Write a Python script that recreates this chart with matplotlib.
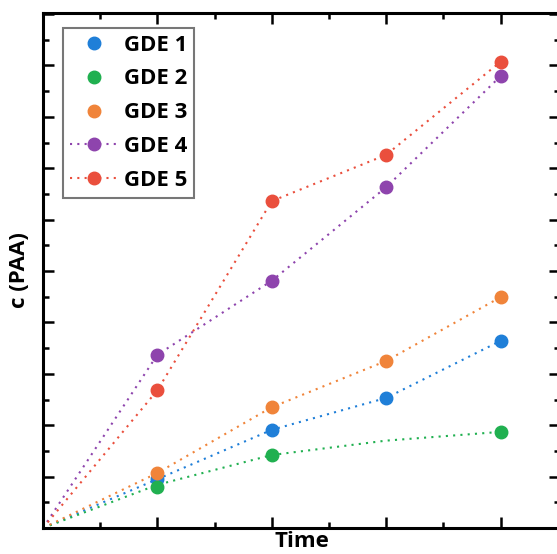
import numpy as np
import matplotlib
matplotlib.use("Agg")
import matplotlib.pyplot as plt
from matplotlib.lines import Line2D
from matplotlib.ticker import MultipleLocator

# time points (arbitrary units, axis has no numbers)
t = [0, 1, 2, 3, 4]
t_gde2 = [0, 1, 2, 4]

gde1 = [0, 0.95, 1.91, 2.53, 3.64]
gde2 = [0, 0.80, 1.42, 1.87]
gde3 = [0, 1.07, 2.35, 3.25, 4.49]
gde4 = [0, 3.37, 4.81, 6.63, 8.79]
gde5 = [0, 2.68, 6.36, 7.26, 9.07]

# dotted guide line for GDE 2
gde2_line = [0, 0.84, 1.42, 1.70, 1.87]

labels = ["GDE 1", "GDE 2", "GDE 3", "GDE 4", "GDE 5"]
colors = ["#1f7fd8", "#20b050", "#f0843a", "#8e44ad", "#ea4f3d"]

plt.rcParams['font.family'] = ['Open Sans', 'DejaVu Sans']

fig = plt.figure(figsize=(5.57, 5.54), dpi=100)
ax = fig.add_axes([43 / 557, 26 / 554, 517 / 557, 515 / 554])

dots = (0, (1, 2.5))
lw = 1.5
ms = 9

ax.plot(t, gde1, color=colors[0], ls=dots, lw=lw, zorder=2)
ax.plot(t, gde2_line, color=colors[1], ls=dots, lw=lw, zorder=2)
ax.plot(t, gde3, color=colors[2], ls=dots, lw=lw, zorder=2)
ax.plot(t, gde4, color=colors[3], ls=dots, lw=lw, zorder=2)
ax.plot(t, gde5, color=colors[4], ls=dots, lw=lw, zorder=2)

ax.plot(t[1:], gde1[1:], 'o', color=colors[0], ms=ms, zorder=3)
ax.plot(t_gde2[1:], gde2[1:], 'o', color=colors[1], ms=ms, zorder=3)
ax.plot(t[1:], gde3[1:], 'o', color=colors[2], ms=ms, zorder=4)
ax.plot(t[1:], gde4[1:], 'o', color=colors[3], ms=ms, zorder=3)
ax.plot(t[1:], gde5[1:], 'o', color=colors[4], ms=ms, zorder=3)

ax.set_xlim(0, 4.52)
ax.set_ylim(0, 10.02)

ax.xaxis.set_major_locator(MultipleLocator(1))
ax.xaxis.set_minor_locator(MultipleLocator(0.5))
ax.yaxis.set_major_locator(MultipleLocator(1))
ax.yaxis.set_minor_locator(MultipleLocator(0.5))
ax.tick_params(which='both', direction='in', top=True, right=True,
               labelbottom=False, labelleft=False, width=1.8)
ax.tick_params(which='major', length=8)
ax.tick_params(which='minor', length=4)
for s in ax.spines.values():
    s.set_linewidth(2.2)

ax.set_xlabel("Time", fontsize=16, fontweight='bold', labelpad=2)
ax.set_ylabel("c (PAA)", fontsize=16, fontweight='bold', labelpad=9)

handles = []
for i, (lab, c) in enumerate(zip(labels, colors)):
    ls = dots if i >= 3 else 'none'
    handles.append(Line2D([], [], color=c, ls=ls, lw=lw, marker='o', ms=ms))

leg = ax.legend(handles, labels, loc='upper left', bbox_to_anchor=(0.039, 0.971),
                borderaxespad=0, fancybox=False, frameon=True,
                prop={'family': 'Open Sans', 'weight': 'bold', 'size': 16},
                handlelength=2.2, handletextpad=0.25, labelspacing=0.58,
                borderpad=0.3, edgecolor='#555555')
leg.get_frame().set_linewidth(1.5)

fig.savefig("out.png", dpi=100)
